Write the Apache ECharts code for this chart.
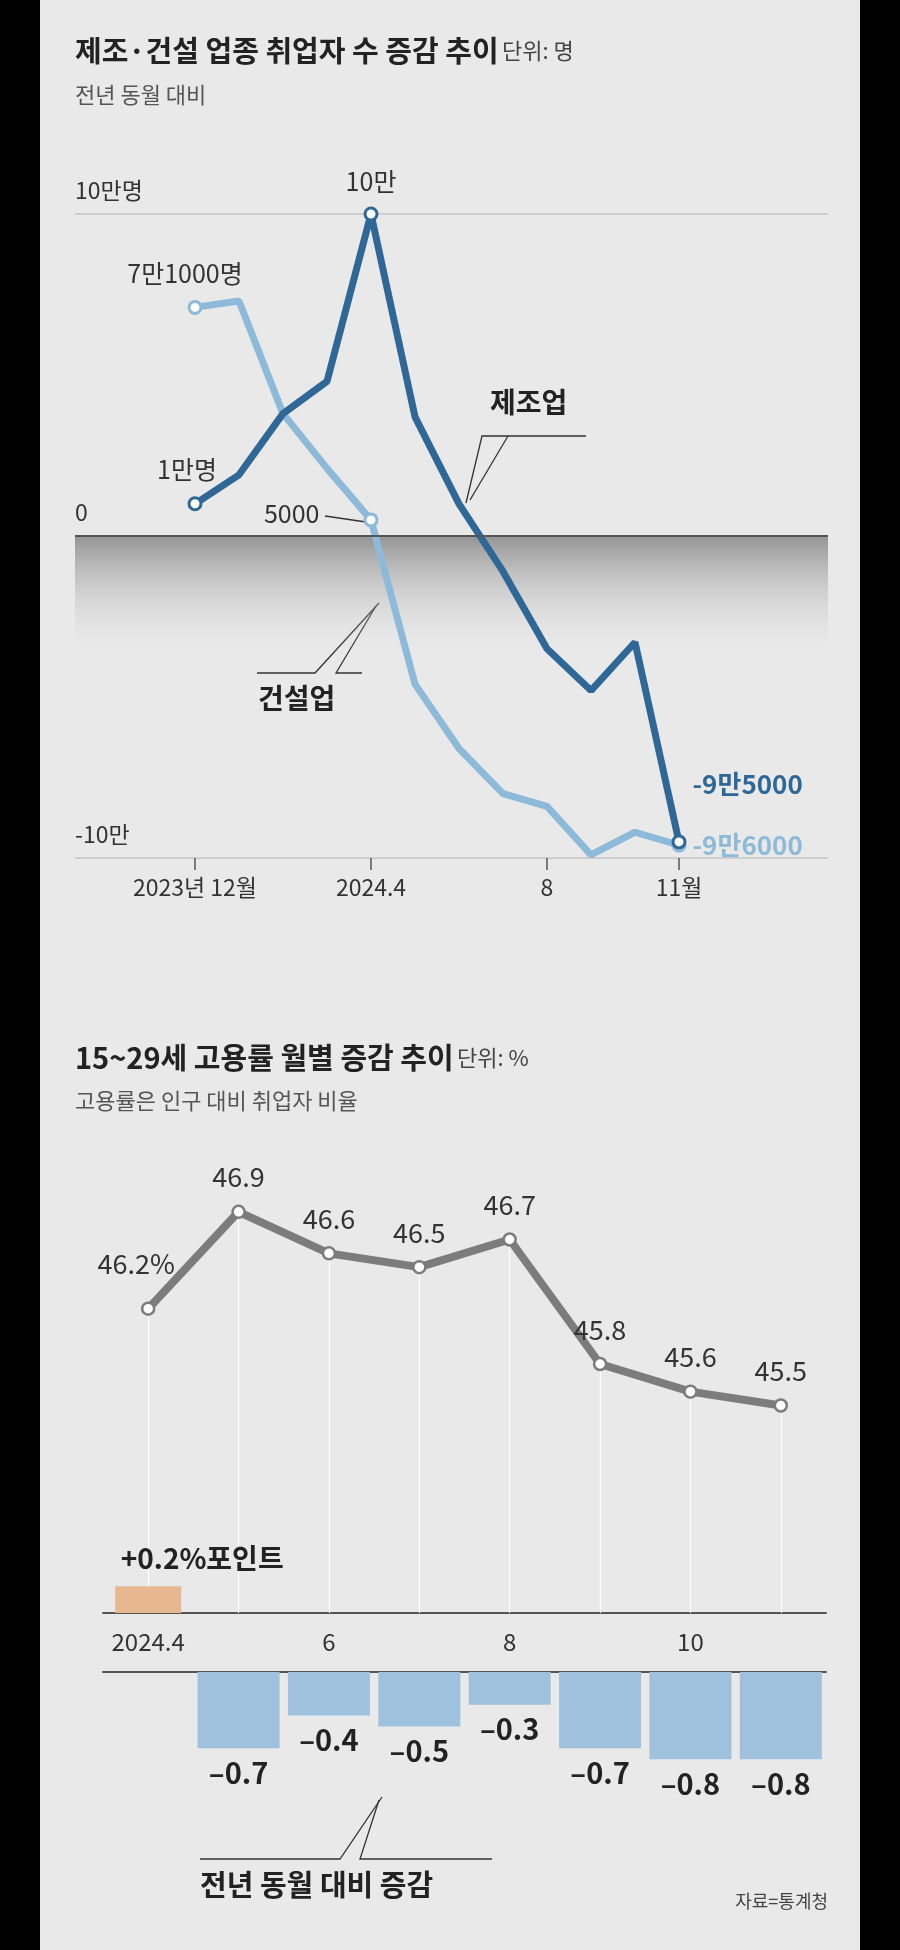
<!DOCTYPE html>
<html><head><meta charset="utf-8">
<script src="https://cdn.jsdelivr.net/npm/echarts@6/dist/echarts.min.js"></script>
<style>body{margin:0;background:#000}#main{width:900px;height:1950px}</style>
</head><body><div id="main"></div>
<script>
// 상단: 제조·건설 취업자 증감 (명)
var months = ['2023년 12월','1','2','3','2024.4','5','6','7','8','9','10','11월'];
var monthLabels = {0:'2023년 12월',4:'2024.4',8:'8',11:'11월'};
var manufacturing = [10000, 19000, 38000, 48000, 100000, 37000, 10000, -11000, -35000, -48000, -33000, -95000];
var construction = [71000, 73000, 38000, 21000, 5000, -46000, -66000, -80000, -84000, -99000, -92000, -96000];
// 하단: 15~29세 고용률 (%)
var youthCats = ['2024.4','5','6','7','8','9','10','11월'];
var youthRate = [46.2, 46.9, 46.6, 46.5, 46.7, 45.8, 45.6, 45.5];
var youthChange = [0.2, -0.7, -0.4, -0.5, -0.3, -0.7, -0.8, -0.8];

var FONT = '"Noto Sans CJK KR", "Noto Sans", sans-serif';
var dark = '#2f6797', light = '#8dbad8';
var myChart = echarts.init(document.getElementById('main'));

function endSym(arr, idxs, color, labels){
    return arr.map(function(v,i){
        var it = {value:v};
        if (idxs.indexOf(i) >= 0) {
            it.symbol = 'circle';
            it.symbolSize = 12;
            it.itemStyle = {color:'#fff', borderColor:color, borderWidth:3};
        }
        if (labels[i]) it.label = labels[i];
        return it;
    });
}
var lblBase = {show:true, fontFamily:FONT, fontSize:25, color:'#333'};

var posBars = youthChange.map(function(v){ return v > 0 ? v : '-'; });
var negBars = youthChange.map(function(v){ return v < 0 ? v : '-'; });

function line(pts){ return {type:'polyline', shape:{points:pts}, style:{stroke:'#333', lineWidth:1.3, fill:null}}; }

option = {
    backgroundColor:'#000',
    textStyle:{fontFamily:FONT},
    graphic:[
        {type:'rect', z:-10, shape:{x:40,y:0,width:820,height:1950}, style:{fill:'#e9e9e9'}},
        {type:'text', left:75, top:36, style:{rich:{a:{fontSize:29,fontWeight:'bold',fill:'#222',fontFamily:FONT},b:{fontSize:22,fill:'#444',fontFamily:FONT}}, text:'{a|제조·건설 업종 취업자 수 증감 추이} {b|단위: 명}'}},
        {type:'text', left:75, top:84, style:{text:'전년 동월 대비', fontSize:22, fill:'#555', fontFamily:FONT}},
        {type:'text', left:75, top:1043, style:{rich:{a:{fontSize:29,fontWeight:'bold',fill:'#222',fontFamily:FONT},b:{fontSize:22,fill:'#444',fontFamily:FONT}}, text:'{a|15~29세 고용률 월별 증감 추이} {b|단위: %}'}},
        {type:'text', left:75, top:1090, style:{text:'고용률은 인구 대비 취업자 비율', fontSize:22, fill:'#555', fontFamily:FONT}},
        {type:'text', left:490, top:388, style:{text:'제조업', fontSize:28, fontWeight:'bold', fill:'#222', fontFamily:FONT}},
        line([[586,436],[482,436],[466,503]]), line([[508,436],[470,500]]),
        {type:'text', left:258, top:684, style:{text:'건설업', fontSize:28, fontWeight:'bold', fill:'#222', fontFamily:FONT}},
        line([[257,673],[315,673],[379,603]]), line([[362,673],[336,673],[376,606]]),
        line([[325,516],[366,522]]),
        {type:'text', left:200, top:1870, style:{text:'전년 동월 대비 증감', fontSize:29, fontWeight:'bold', fill:'#222', fontFamily:FONT}},
        line([[200,1859],[340,1859],[382,1797]]), line([[492,1859],[360,1859],[379,1800]]),
        {type:'text', right:72, top:1892, style:{text:'자료=통계청', fontSize:18, fill:'#444', fontFamily:FONT}}
    ],
    grid:[
        {left:75, right:72, top:214, height:644},
        {left:195, width:484, top:214, height:644},
        {left:103, width:723, top:1198, height:415},
        {left:103, width:723, top:1573, height:40},
        {left:103, width:723, top:1672, height:109}
    ],
    xAxis:[
        {gridIndex:0, type:'value', min:0, max:1, show:false},
        {gridIndex:1, type:'category', data:months, boundaryGap:false, axisLine:{show:false, onZero:false},
         axisTick:{interval:function(i){return monthLabels[i]!==undefined;}, length:12, lineStyle:{color:'#555',width:1.5}},
         axisLabel:{interval:function(i){return monthLabels[i]!==undefined;}, formatter:function(v,i){return monthLabels[i]||'';}, fontSize:23, color:'#333', margin:18, fontFamily:FONT}},
        {gridIndex:2, type:'category', data:youthCats, show:false},
        {gridIndex:3, type:'category', data:youthCats, axisLine:{lineStyle:{color:'#555',width:2}}, axisTick:{show:false}, axisLabel:{show:false}},
        {gridIndex:4, type:'category', data:youthCats, position:'top', axisLine:{onZero:false, lineStyle:{color:'#555',width:2}}, axisTick:{show:false},
         axisLabel:{fontSize:24, color:'#333', margin:18, fontFamily:FONT}}
    ],
    yAxis:[
        {gridIndex:0, type:'value', min:-100000, max:100000, interval:100000, axisLine:{show:false}, axisTick:{show:false},
         splitLine:{lineStyle:{color:'#c4c4c4',width:1.5}},
         axisLabel:{inside:true, verticalAlign:'bottom', margin:0, padding:[0,0,12,0], fontSize:23, color:'#333', fontFamily:FONT,
            formatter:function(v){return v>0?'10만명':(v<0?'-10만':'0');}}},
        {gridIndex:1, type:'value', min:-100000, max:100000, show:false},
        {gridIndex:2, type:'value', min:44, max:47, show:false},
        {gridIndex:3, type:'value', min:0, max:0.3, show:false},
        {gridIndex:4, type:'value', min:-1, max:0, show:false}
    ],
    series:[
        {type:'line', xAxisIndex:0, yAxisIndex:0, data:[], silent:true,
         markLine:{symbol:'none', silent:true, label:{show:false}, lineStyle:{color:'#555',width:2,type:'solid'}, data:[{yAxis:0}]},
         markArea:{silent:true, itemStyle:{color:new echarts.graphic.LinearGradient(0,0,0,1,[{offset:0,color:'rgba(120,120,120,0.75)'},{offset:1,color:'rgba(233,233,233,0)'}])},
            data:[[{yAxis:0},{yAxis:-38000}]]}},
        {type:'line', name:'건설업', xAxisIndex:1, yAxisIndex:1, symbol:'none', lineStyle:{color:light,width:7}, z:3,
         data:endSym(construction,[0,4,11],light,{
            0:Object.assign({},lblBase,{position:'top',distance:14,offset:[-10,0],formatter:'7만1000명'}),
            4:Object.assign({},lblBase,{position:'left',distance:44,offset:[0,-6],formatter:'5000'}),
            11:Object.assign({},lblBase,{position:'right',distance:6,fontSize:26,color:light,fontWeight:'bold',formatter:'-9만6000'})})},
        {type:'line', name:'제조업', xAxisIndex:1, yAxisIndex:1, symbol:'none', lineStyle:{color:dark,width:7}, z:4,
         data:endSym(manufacturing,[0,4,11],dark,{
            0:Object.assign({},lblBase,{position:'top',distance:14,offset:[-8,0],formatter:'1만명'}),
            4:Object.assign({},lblBase,{position:'top',distance:12,formatter:'10만'}),
            11:Object.assign({},lblBase,{position:'right',distance:6,offset:[0,-58],fontSize:26,color:dark,fontWeight:'bold',formatter:'-9만5000'})})},
        {type:'line', xAxisIndex:2, yAxisIndex:2, data:youthRate, symbol:'circle', symbolSize:12,
         itemStyle:{color:'#fff', borderColor:'#7c7c7c', borderWidth:2.5}, lineStyle:{color:'#7c7c7c',width:8}, z:4,
         label:{show:true, position:'top', distance:14, fontSize:27, color:'#333', fontFamily:FONT,
            formatter:function(p){return p.dataIndex===0 ? p.value+'%' : p.value;}},
         labelLayout:function(p){ return p.dataIndex===0 ? {dx:-12, dy:-10} : {}; },
         markLine:{symbol:'none', silent:true, z:1, label:{show:false}, lineStyle:{color:'#fff',width:1.2,type:'solid'},
            data:youthRate.map(function(v,i){return [{coord:[i,v]},{coord:[i,44]}];})}},
        {type:'bar', xAxisIndex:3, yAxisIndex:3, data:posBars, barWidth:66, z:5, itemStyle:{color:'#e7b890'},
         label:{show:true, position:'top', distance:14, offset:[54,0], fontSize:28, fontWeight:'bold', color:'#222', fontFamily:FONT,
            formatter:function(p){return '+'+p.value+'%포인트';}}},
        {type:'bar', xAxisIndex:4, yAxisIndex:4, data:negBars, barWidth:82, itemStyle:{color:'#a0c1de'},
         label:{show:true, position:'bottom', distance:10, fontSize:29, fontWeight:'bold', color:'#222', fontFamily:FONT,
            formatter:function(p){return '–'+Math.abs(p.value);}}}
    ]
};
myChart.setOption(option);
</script></body></html>
